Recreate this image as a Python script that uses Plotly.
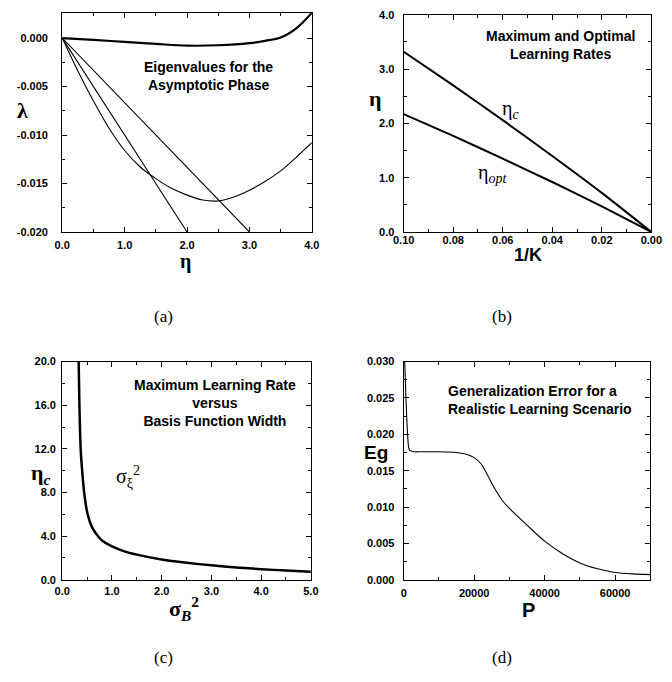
import plotly.graph_objects as go

W, H = 672, 682

# ---------------- data ----------------
# (a) eigenvalues for the asymptotic phase
a_eta_top = [0, 0.5, 1.0, 1.5, 2.0, 2.5, 3.0, 3.25, 3.5, 3.75, 4.0]
a_lam_top = [0, -0.00018, -0.0004, -0.0006, -0.00078, -0.00074, -0.00052, -0.00028, 0.00005, 0.0010, 0.0026]
a_eta_l1 = [0, 3.0]
a_lam_l1 = [0, -0.020]
a_eta_l2 = [0, 2.0]
a_lam_l2 = [0, -0.020]
a_eta_curve = [0, 0.25, 0.5, 0.75, 1.0, 1.25, 1.5, 1.75, 2.0, 2.25, 2.5, 2.75, 3.0, 3.25, 3.5, 3.75, 4.0]
a_lam_curve = [0, -0.0034, -0.0065, -0.0093, -0.0116, -0.0133, -0.0145, -0.0155, -0.0162,
               -0.0167, -0.0168, -0.0164, -0.0157, -0.0148, -0.0137, -0.0123, -0.0108]

# (b) maximum and optimal learning rates
b_invK = [0.10, 0.08, 0.06, 0.04, 0.02, 0.0]
b_eta_c = [3.32, 2.70, 2.06, 1.40, 0.72, 0.0]
b_eta_opt = [2.17, 1.77, 1.35, 0.92, 0.47, 0.0]

# (c) maximum learning rate versus basis function width
c_sigB = [0.33, 0.345, 0.37, 0.40, 0.44, 0.51, 0.6, 0.7, 0.8, 1.0, 1.25, 1.5, 2.0, 2.5, 3.0, 3.5, 4.0, 4.5, 5.0]
c_eta = [20, 16, 12, 10, 8, 6, 4.8, 4.1, 3.6, 3.05, 2.6, 2.3, 1.85, 1.55, 1.32, 1.13, 0.97, 0.84, 0.72]

# (d) generalization error
d_P = [300, 630, 1100, 1400, 1700, 2200, 3000, 5000, 10000, 15000, 17500, 20000, 22000, 24000,
       26000, 28000, 30000, 35000, 40000, 45000, 50000, 55000, 60000, 65000, 70000]
d_Eg = [0.030, 0.025, 0.020, 0.0182, 0.0178, 0.0177, 0.0176, 0.0176, 0.0176, 0.0175, 0.0173, 0.0168,
        0.0159, 0.0142, 0.0124, 0.0109, 0.0098, 0.0075, 0.0053, 0.0036, 0.0023, 0.0015, 0.0010,
        0.0008, 0.0007]

# tick labels
a_xt = [0, 1, 2, 3, 4]
a_xl = ["0.0", "1.0", "2.0", "3.0", "4.0"]
a_yt = [0.0, -0.005, -0.010, -0.015, -0.020]
a_yl = ["0.000", "-0.005", "-0.010", "-0.015", "-0.020"]
b_xt = [0.10, 0.08, 0.06, 0.04, 0.02, 0.0]
b_xl = ["0.10", "0.08", "0.06", "0.04", "0.02", "0.00"]
b_yt = [0, 1, 2, 3, 4]
b_yl = ["0.0", "1.0", "2.0", "3.0", "4.0"]
c_xt = [0, 1, 2, 3, 4, 5]
c_xl = ["0.0", "1.0", "2.0", "3.0", "4.0", "5.0"]
c_yt = [0, 4, 8, 12, 16, 20]
c_yl = ["0.0", "4.0", "8.0", "12.0", "16.0", "20.0"]
d_xt = [0, 20000, 40000, 60000]
d_xl = ["0", "20000", "40000", "60000"]
d_yt = [0, 0.005, 0.010, 0.015, 0.020, 0.025, 0.030]
d_yl = ["0.000", "0.005", "0.010", "0.015", "0.020", "0.025", "0.030"]

# ---------------- figure ----------------
def px(x):
    return x / W

def py(y):
    return 1 - y / H

fig = go.Figure()
blk = "black"

def line(x, y, xa, ya, w, sm=0.6):
    fig.add_trace(go.Scatter(x=x, y=y, xaxis=xa, yaxis=ya, mode="lines",
                             line=dict(color=blk, width=w, shape="spline", smoothing=sm),
                             showlegend=False, hoverinfo="skip"))

line(a_eta_top, a_lam_top, "x", "y", 2.2, 1.0)
line(a_eta_l1, a_lam_l1, "x", "y", 1.1)
line(a_eta_l2, a_lam_l2, "x", "y", 1.1)
line(a_eta_curve, a_lam_curve, "x", "y", 1.1)
line(b_invK, b_eta_c, "x2", "y2", 2.0)
line(b_invK, b_eta_opt, "x2", "y2", 2.0)
line(c_sigB, c_eta, "x3", "y3", 2.5)
line(d_P, d_Eg, "x4", "y4", 1.1, 0.8)

tickfont = dict(family="Liberation Sans, Arial", size=11, color=blk, weight="bold")

def axis(domain, rng, tv, tl, anchor, dtick_minor, standoff):
    return dict(domain=domain, range=rng, anchor=anchor, showline=True, linecolor=blk, linewidth=1.2,
                mirror="ticks", ticks="inside", ticklen=5, tickwidth=1, tickcolor=blk,
                tickmode="array", tickvals=tv, ticktext=tl, tickfont=tickfont,
                showgrid=False, zeroline=False, ticklabelstandoff=standoff,
                minor=dict(ticks="inside", ticklen=3, tickwidth=1, tickcolor=blk, dtick=dtick_minor,
                           showgrid=False))

xa_dom = [px(53), px(311)]
xb_dom = [px(406), px(662)]
xc_dom = [px(53), px(310)]
xd_dom = [px(406), px(661)]
ytop = [py(230), py(7)]
ytopb = [py(230), py(9)]
ybot = [py(584), py(362)]

fig.update_layout(
    width=W, height=H, margin=dict(l=0, r=0, t=0, b=0),
    paper_bgcolor="white", plot_bgcolor="white",
    xaxis=axis(xa_dom, [0, 4], a_xt, a_xl, "y", 0.5, 3),
    yaxis=axis(ytop, [-0.020, 0.0026], a_yt, a_yl, "x", 0.0025, 11),
    xaxis2=axis(xb_dom, [0.10, 0.0], b_xt, b_xl, "y2", 0.01, -2),
    yaxis2=axis(ytopb, [0, 4.0], b_yt, b_yl, "x2", 0.5, 6),
    xaxis3=axis(xc_dom, [0, 5], c_xt, c_xl, "y3", 0.5, 1),
    yaxis3=axis(ybot, [0, 20], c_yt, c_yl, "x3", 2, 3),
    xaxis4=axis(xd_dom, [0, 70000], d_xt, d_xl, "y4", 10000, 3),
    yaxis4=axis(ybot, [0, 0.030], d_yt, d_yl, "x4", 0.0025, 6),
)

bold = dict(family="Liberation Sans, Arial", size=14, color=blk, weight="bold")
serif = "Liberation Serif, Times New Roman"

def ann(text, x, y, xref="paper", yref="paper", font=None, align="center", xanchor="center"):
    fig.add_annotation(text=text, x=x, y=y, xref=xref, yref=yref, showarrow=False,
                       font=font or bold, align=align, xanchor=xanchor, yanchor="middle")

# panel titles
ann("Eigenvalues for the<br>Asymptotic Phase", px(204), py(71))
ann("Maximum and Optimal<br>Learning Rates", px(568), py(40))
ann("Maximum Learning Rate<br>versus<br>Basis Function Width", px(211), py(404))
ann("Generalization Error for a<br>Realistic Learning Scenario", px(450), py(401), align="left", xanchor="left")

# axis labels
big = dict(family=serif, size=22, color=blk, weight="bold")
ann("λ", px(12), py(106), font=big)
ann("η", px(180), py(260), font=dict(family=serif, size=20, color=blk, weight="bold"))
ann("η", px(377), py(94), font=big)
ann("1/K", px(534), py(253), font=dict(family="Liberation Sans, Arial", size=18, color=blk, weight="bold"))
ann("η<sub><i>c</i></sub>", px(31), py(476), font=big)
ann("σ<sub><i>B</i></sub><sup>2</sup>", px(179), py(613), font=big)
ann("Eg", px(377), py(455), font=dict(family="Liberation Sans, Arial", size=19, color=blk, weight="bold"))
ann("P", px(535), py(615), font=dict(family="Liberation Sans, Arial", size=20, color=blk, weight="bold"))

# curve labels in data coordinates
ann("η<sub><i>c</i></sub>", 0.057, 2.25, xref="x2", yref="y2", font=dict(family=serif, size=20, color=blk))
ann("η<sub><i>opt</i></sub>", 0.064, 1.08, xref="x2", yref="y2", font=dict(family=serif, size=20, color=blk))
ann("σ<sub>ξ</sub><sup>2</sup>", 1.33, 9.4, xref="x3", yref="y3", font=dict(family=serif, size=20, color=blk))

# captions
cap = dict(family="Liberation Serif, Times New Roman", size=17, color=blk)
ann("(a)", px(158), py(316), font=cap)
ann("(b)", px(508), py(316), font=cap)
ann("(c)", px(158), py(663), font=cap)
ann("(d)", px(508), py(663), font=cap)

fig.write_html("out.html")
